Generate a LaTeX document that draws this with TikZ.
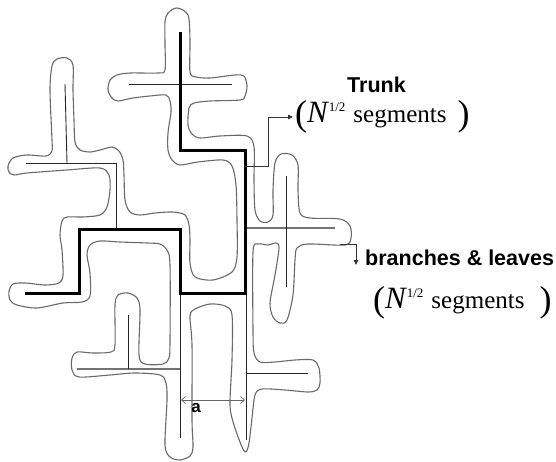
\documentclass[tikz,border=0pt]{standalone}
\usepackage{fontspec}
\usetikzlibrary{arrows.meta}
\newfontfamily\labelsans{Liberation Sans}
\newfontfamily\labelserif{Liberation Serif}
% "(N^{1/2} segments )" with a chosen gap before the closing parenthesis
\newcommand\segcount[1]{%
  \labelserif\fontsize{25}{25}\selectfont
  \raisebox{-3pt}{\fontsize{36}{36}\selectfont(}%
  {\fontsize{31}{31}\selectfont\itshape N}%
  \hspace{1pt}\raisebox{11pt}{\fontsize{13}{13}\selectfont 1/2}%
  \hspace{8pt}segments\hspace{#1}%
  \raisebox{-3pt}{\fontsize{36}{36}\selectfont)}}
\tikzset{
  ring/.style={draw={rgb,255:red,105;green,105;blue,105}, line width=1.1pt, line join=round},
  backbone/.style={draw=black, line width=3pt, line join=miter},
  twig/.style={draw=black!85, line width=0.9pt},
  greytwig/.style={draw=black!55, line width=1.1pt},
  pointer/.style={draw=black!80, line width=0.8pt, -{Triangle[length=5pt,width=4.5pt]}},
  spacing/.style={draw=black!60, line width=0.7pt, {Straight Barb[length=4pt,width=7pt]}-{Straight Barb[length=4pt,width=7pt]}},
  boldlabel/.style={inner sep=0pt, anchor=base west, font=\labelsans\bfseries\fontsize{21.5}{21.5}\selectfont},
  countlabel/.style={inner sep=0pt, anchor=base west}
}
\begin{document}
\begin{tikzpicture}[x=1pt,y=-1pt]
\useasboundingbox (0,0) rectangle (556,462);

% closed ring wrapped around the whole tree
\draw[ring] plot[smooth cycle, tension=0.5] coordinates {
(177,8) (168,13) (165,22) (165,45) (165,70)
(158,73) (130,73) (117,75) (110,80) (108,90) (112,98) (118,101) (133,98) (150,96) (166,95)
(170,101) (171,112) (168,133) (168,150) (172,160) (180,165) (198,162) (223,160) (232,166) (236,185)
(237,220) (237,257) (232,272) (213,280) (195,277) (190,263) (190,240) (189,225) (185,215) (173,212) (155,213) (140,215) (130,212)
(125,200) (124,175) (123,160) (119,151) (112,147) (100,150) (90,152) (80,150) (75,142) (74,120) (73,90) (73,65) (67,58) (57,59) (52,66) (50,90) (52,140) (52,151) (46,156) (27,155) (13,158) (8,166) (9,172) (14,175) (27,173) (67,170) (100,168) (109,175) (110,190) (107,207) (100,215) (83,217) (67,217) (62,221) (60,235) (62,250) (63,275) (59,283) (45,285) (25,283) (13,284) (9,291) (10,300) (17,305) (37,308) (63,303) (82,302) (90,296) (90,273) (87,255) (90,245) (100,241) (120,242) (147,243) (160,244) (167,250) (170,265) (170,340) (169,358) (163,364) (145,364) (139,355) (140,310) (137,298) (128,293) (118,295) (115,305) (115,345) (111,352) (93,353) (77,352) (72,358) (72,370) (79,377) (110,375) (135,373) (160,375) (166,383) (167,400) (165,445) (170,457) (180,460) (190,456) (193,447) (192,420) (192,345) (190,316) (195,309) (210,304) (225,306) (232,315) (232,360) (230,405) (234,425) (242,447) (246,452) (249,443) (252,418) (255,395) (262,389) (285,390) (308,392) (317,390) (320,383) (319,368) (313,360) (295,360) (275,362) (260,362) (254,353) (253,330) (253,252) (258,244) (268,245) (276,243) (279,248) (275,275) (270,303) (273,317) (280,323) (287,320) (293,295) (295,260) (297,248) (308,244) (345,245) (351,238) (350,226) (340,219) (310,218) (300,213) (298,190) (298,165) (292,155) (281,154) (275,163) (273,190) (273,215) (268,222) (260,221) (255,210) (254,180) (254,147) (247,136) (220,136) (200,138) (192,134) (188,125) (189,108) (194,103) (210,101) (240,100) (245,96) (247,86) (244,76) (235,75) (210,78) (196,77) (190,72) (190,40) (188,15)
};

% side branches and leaves
\draw[twig] (129,84) -- (232,84);
\draw[twig] (65,84) -- (67,163);
\draw[twig] (26,163) -- (116,163) -- (116,229);
\draw[greytwig] (245,228) -- (335,228);
\draw[twig] (286,176) -- (286,287);
\draw[twig] (180,293) -- (180,438);
\draw[greytwig] (77,369) -- (180,369);
\draw[twig] (128,315) -- (128,369);
\draw[twig] (246,293) -- (246,440);
\draw[twig] (246,373) -- (308,373);

% trunk
\draw[backbone] (180,32) -- (180,151) -- (245,151) -- (245,293) -- (180,293)
  -- (180,229) -- (79,229) -- (79,293) -- (25,293);

% labels
\node[boldlabel] (trunk) at (347,93) {Trunk};
\node[countlabel] (trunkcount) at (295,123) {\segcount{11pt}};
\node[boldlabel] (branches) at (365,265) {branches \& leaves};
\node[countlabel] (branchcount) at (373,308) {\segcount{15pt}};

% pointers to the labels
\coordinate (trunkfoot) at (245,166);
\coordinate (branchfoot) at (340,244);
\coordinate (trunktip) at (293,117);
\coordinate (branchtip) at (356,265);
\draw[pointer] (trunkfoot) -- (268,166) |- (trunktip);
\draw[pointer] (branchfoot) -| (branchtip);

% lattice spacing
\coordinate (sleft) at (181,400);
\coordinate (sright) at (245,400);
\draw[spacing] (sleft) -- (sright);
\node[inner sep=0pt, anchor=base, font=\labelsans\bfseries\fontsize{17}{17}\selectfont] (alabel) at (196,412) {a};
\end{tikzpicture}
\end{document}
